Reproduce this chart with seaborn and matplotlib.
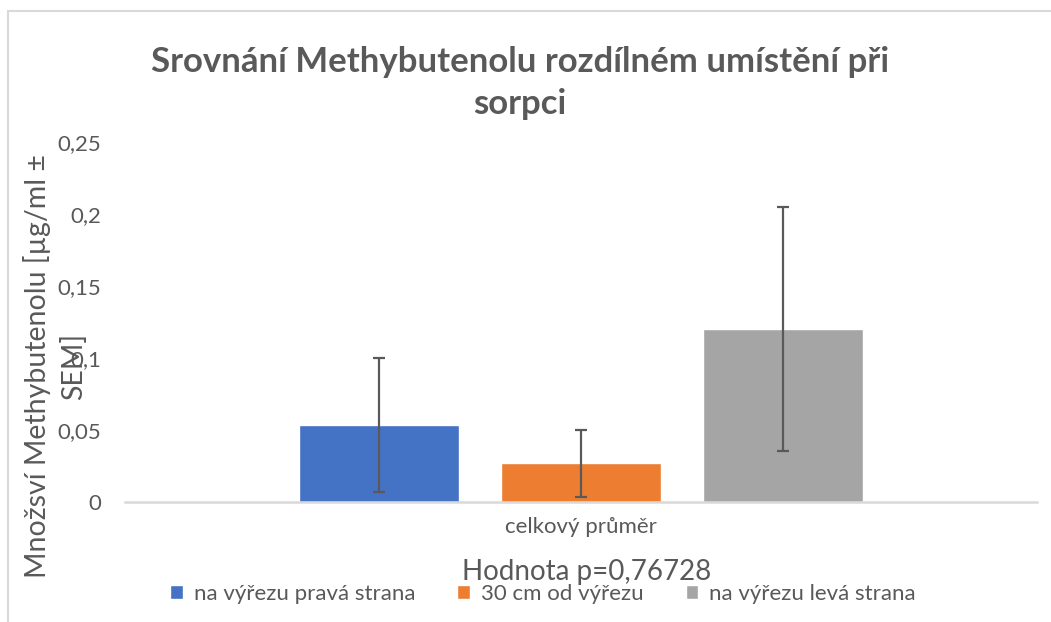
import matplotlib
matplotlib.use("Agg")
import matplotlib.pyplot as plt
import matplotlib.patches as mpatches
from matplotlib.ticker import FuncFormatter
import seaborn as sns
import pandas as pd

# ---- data ----
category = ["celkový průměr"]
series = ["na výřezu pravá strana", "30 cm od výřezu", "na výřezu levá strana"]
means = [0.0535, 0.0270, 0.1200]
sems = [0.0463, 0.0232, 0.0848]
colors = ["#4472C4", "#ED7D31", "#A5A5A5"]
title = "Srovnání Methybutenolu rozdílném umístění při\nsorpci"
ylabel = "Množsví Methybutenolu [µg/ml ±\nSEM]"
xlabel = "Hodnota p=0,76728"
yticks = [0, 0.05, 0.1, 0.15, 0.2, 0.25]

df = pd.DataFrame({
    "cat": category * len(series),
    "series": series,
    "value": means,
})

sns.set_theme(style="white")
plt.rcParams["font.family"] = ["Lato", "DejaVu Sans"]
TXT = "#595959"

W, H = 1051, 622
fig = plt.figure(figsize=(W / 100, H / 100), dpi=100)
ax = fig.add_axes([125 / W, 1 - 502 / H, (1037 - 125) / W, (502 - 142) / H])

sns.barplot(data=df, x="cat", y="value", hue="series", hue_order=series,
            palette=colors, width=0.664, gap=0.208, ax=ax, errorbar=None,
            saturation=1, legend=True)

# error bars at bar centres
bars = [p for p in ax.patches if isinstance(p, mpatches.Rectangle)][:len(series)]
for b, m, s in zip(bars, means, sems):
    cx = b.get_x() + b.get_width() / 2
    ax.errorbar(cx, m, yerr=s, fmt="none", ecolor=TXT, elinewidth=1.6,
                capsize=4.5, capthick=1.6, zorder=5)

ax.set_xlim(-0.5, 0.5)
ax.set_ylim(0, 0.25)
ax.set_yticks(yticks)
ax.yaxis.set_major_formatter(FuncFormatter(lambda v, p: ("%g" % round(v, 2)).replace(".", ",")))
ax.tick_params(axis="y", length=0, pad=17, labelsize=16, labelcolor=TXT)
ax.tick_params(axis="x", length=0, pad=11, labelsize=16, labelcolor=TXT)
ax.set_xlabel("")
ax.set_ylabel("")
for side in ["left", "right", "top"]:
    ax.spines[side].set_visible(False)
ax.spines["bottom"].set_color("#d9d9d9")
ax.spines["bottom"].set_linewidth(1.8)
ax.grid(False)

# legend
handles, labels = ax.get_legend_handles_labels()
ax.get_legend().remove()
leg = fig.legend(handles, labels, loc="center", bbox_to_anchor=(543 / W, 1 - 594 / H),
                 ncol=3, frameon=False, fontsize=16, handlelength=0.55,
                 handleheight=0.55, handletextpad=0.5, columnspacing=1.9,
                 borderpad=0)
for t in leg.get_texts():
    t.set_color(TXT)

# titles and labels
fig.text(520 / W, 1 - 83 / H, title, ha="center", va="center", fontsize=25,
         fontweight="bold", color=TXT, linespacing=1.35)
fig.text(55 / W, 1 - 366 / H, ylabel, ha="center", va="center", rotation=90,
         fontsize=20.5, color=TXT, linespacing=1.45, multialignment="center")
fig.text(587 / W, 1 - 572 / H, xlabel, ha="center", va="center", fontsize=20,
         color=TXT)

# chart border (cropped on right and bottom)
fig.patches.append(mpatches.Rectangle((8 / W, -0.2), 1.5, 1.2 - 11 / H,
                                      transform=fig.transFigure, fill=False,
                                      edgecolor="#d9d9d9", linewidth=1.5))

fig.savefig("out.png", dpi=100, facecolor="white")
